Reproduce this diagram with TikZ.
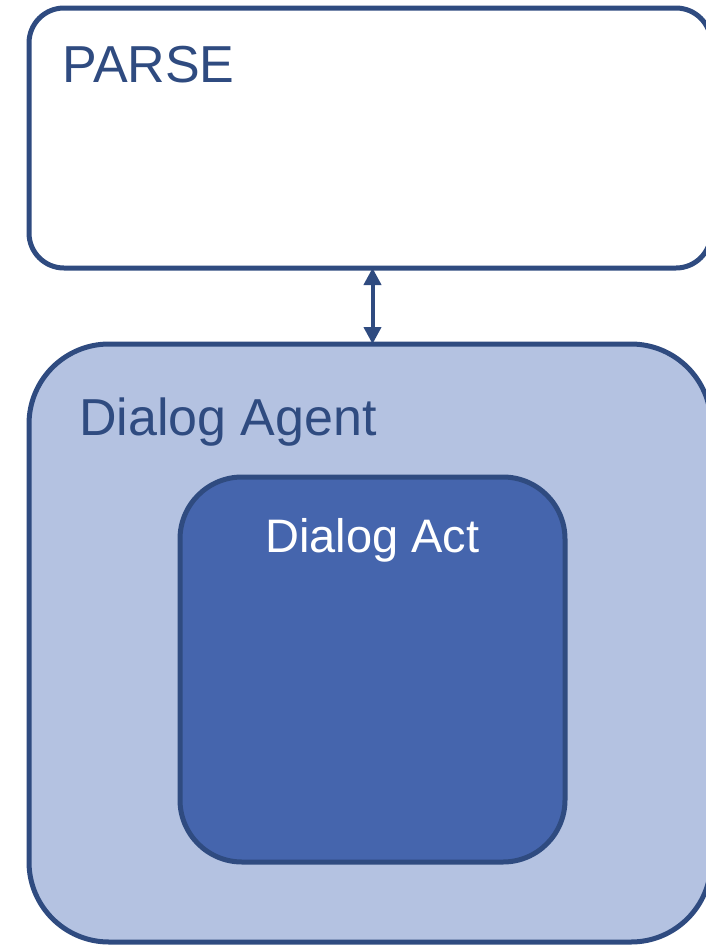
\documentclass[tikz,border=0pt]{standalone}
\usepackage{fontspec}
\setmainfont{Liberation Sans}
\usepackage{tikz}
\usetikzlibrary{arrows.meta}

\definecolor{edgeblue}{HTML}{2F4B80}
\definecolor{agentfill}{HTML}{B4C2E1}
\definecolor{actfill}{HTML}{4565AD}

\begin{document}
\begin{tikzpicture}[
        x = 1pt, y = -1pt,
        box/.style = {
            draw = edgeblue,
            rectangle,
            rounded corners = #1,
            line width = 5pt,
            inner sep = 0pt,
            outer sep = 0pt
        },
        box/.default = 35pt,
        title/.style = {
            text = edgeblue,
            font = \fontsize{52}{60}\selectfont,
            inner sep = 0pt,
            anchor = base west
        }
    ]
    \useasboundingbox (0,0) rectangle (705,945);
    % outer boxes
    \node[box, fill=white, minimum width=682pt, minimum height=260pt] (parse) at (370,138) {};
    \node[box=80pt, fill=agentfill, minimum width=682pt, minimum height=598pt] (agent) at (370,643) {};
    \node[box=62pt, fill=actfill, minimum width=385pt, minimum height=385pt] (act) at (372.5,669.5) {};
    % labels
    \node[title] (parse label) at (62,82) {PARSE};
    \node[title] (agent label) at (79,435) {Dialog Agent};
    \node[title, text=white, font=\fontsize{47}{54}\selectfont] (act label) at (265,552) {Dialog Act};
    % link
    \draw[edgeblue, line width=4pt, {Triangle[width=17pt,length=17pt]}-{Triangle[width=17pt,length=17pt]}]
        (act.north |- parse.south) -- (act.north |- agent.north);
\end{tikzpicture}
\end{document}
